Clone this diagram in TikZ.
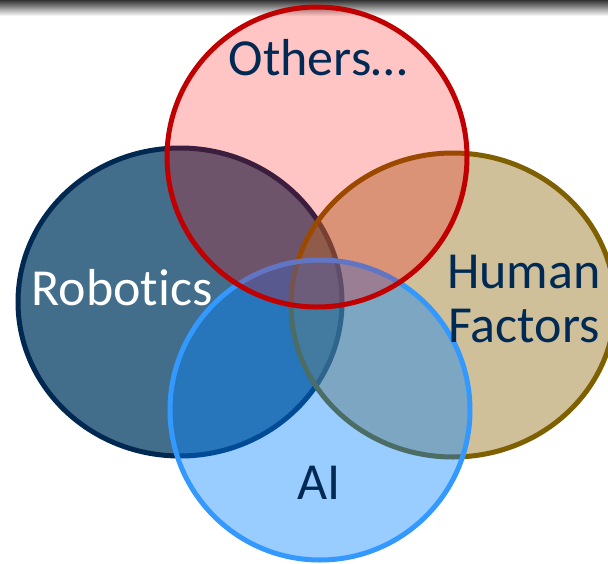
\documentclass[tikz,border=0pt]{standalone}
\usepackage{fontspec}
\setmainfont[Ligatures={NoCommon,NoRare,NoDiscretionary}]{Carlito}
\usetikzlibrary{positioning}
\definecolor{robofill}{RGB}{66,110,140}
\definecolor{robodraw}{RGB}{0,40,80}
\definecolor{humanfill}{RGB}{159,129,53}
\definecolor{humandraw}{RGB}{127,96,0}
\definecolor{aifill}{RGB}{0,128,255}
\definecolor{aidraw}{RGB}{51,153,255}
\definecolor{otherfill}{RGB}{255,0,0}
\definecolor{otherdraw}{RGB}{192,0,0}
\definecolor{textnavy}{RGB}{0,42,84}
\tikzset{
		>=stealth
	}

\begin{document}
\begin{tikzpicture}[x=1pt, y=-1pt,
	area/.style={line width=5pt},
	venntext/.style={font=\fontsize{52}{54}\selectfont, text=textnavy, inner sep=0pt, anchor=base}]
	\useasboundingbox (0,0) rectangle (608,563);
	\shade[top color=black!80, bottom color=white] (0,0) rectangle (608,16); % shadow under the title bar
	% the four fields, back to front
	\draw[area, draw=robodraw, fill=robofill] (180,302) ellipse [x radius=162, y radius=154];
	\draw[area, draw=humandraw, fill=humanfill, fill opacity=0.5] (453,305) ellipse [x radius=162, y radius=152];
	\draw[area, draw=aidraw, fill=aifill, fill opacity=0.4] (320,410) circle [radius=150];
	\draw[area, draw=otherdraw, fill=otherfill, fill opacity=0.23] (317,157) circle [radius=150];
	% labels
	\node[venntext] (others) at (318,75) {Others…};
	\node[venntext, text=white] (robotics) at (122,305) {Robotics};
	\node[venntext] (human) at (524,288) {Human};
	\node[venntext] (factors) at (524,342) {Factors};
	\node[venntext] (ai) at (319,499) {AI};
\end{tikzpicture}
\end{document}
